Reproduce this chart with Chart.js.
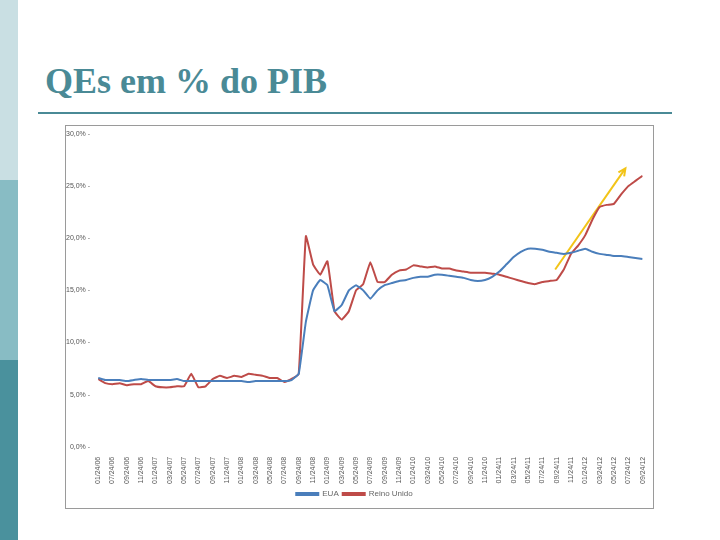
<!DOCTYPE html>
<html><head><meta charset="utf-8">
<script src="https://cdn.jsdelivr.net/npm/chart.js@4"></script>
<style>
body{margin:0;width:720px;height:540px;background:#fff;position:relative;overflow:hidden;font-family:"Liberation Serif",serif}
.s{position:absolute;left:0;width:18px}
#title{position:absolute;left:45px;top:60px;font-size:36px;font-weight:bold;color:#4a8a96;font-family:"Liberation Serif",serif}
#rule{position:absolute;left:38px;top:112px;width:634px;height:2px;background:#4a8a96}
#box{position:absolute;left:65px;top:125px;width:589px;height:384px;border:1px solid #9a9a9a;box-sizing:border-box}
</style></head><body>
<div class="s" style="top:0;height:180px;background:#c9dfe3"></div>
<div class="s" style="top:180px;height:180px;background:#88bcc4"></div>
<div class="s" style="top:360px;height:180px;background:#4a919d"></div>
<div id="title">QEs em % do PIB</div>
<div id="rule"></div>
<div id="box"><canvas id="c" width="587" height="382"></canvas></div>
<script>
"use strict";

// ── Data ──────────────────────────────────────────────────────────────────────
const tickLabels = ["01/24/06","07/24/06","09/24/06","11/24/06",
  "01/24/07","03/24/07","05/24/07","07/24/07","09/24/07","11/24/07",
  "01/24/08","03/24/08","05/24/08","07/24/08","09/24/08","11/24/08",
  "01/24/09","03/24/09","05/24/09","07/24/09","09/24/09","11/24/09",
  "01/24/10","03/24/10","05/24/10","07/24/10","09/24/10","11/24/10",
  "01/24/11","03/24/11","05/24/11","07/24/11","09/24/11","11/24/11",
  "01/24/12","03/24/12","05/24/12","07/24/12","09/24/12"];
const yTicks = [0, 5, 10, 15, 20, 25, 30];

// one value every half label step
const eua = [6.6,6.4, 6.4,6.4, 6.3,6.4, 6.5,6.4, 6.4,6.4, 6.4,6.5, 6.3,6.3, 6.3,6.3,
  6.3,6.3, 6.3,6.3, 6.3,6.2, 6.3,6.3, 6.3,6.3, 6.3,6.4, 7.0,12.0, 15.0,16.0,
  15.5,13.0, 13.6,15.0, 15.5,15.0, 14.2,15.0, 15.5,15.7, 15.9,16.0, 16.2,16.3,
  16.3,16.5, 16.5,16.4, 16.3,16.2, 16.0,15.9, 16.0,16.3, 16.8,17.5, 18.2,18.7,
  19.0,19.0, 18.9,18.7, 18.6,18.5, 18.6,18.8, 19.0,18.7, 18.5,18.4, 18.3,18.3,
  18.2,18.1, 18.0];
const reinoUnido = [6.5,6.1, 6.0,6.1, 5.9,6.0, 6.0,6.3, 5.8,5.7, 5.7,5.8, 5.8,7.0,
  5.7,5.8, 6.5,6.8, 6.6,6.8, 6.7,7.0, 6.9,6.8, 6.6,6.6, 6.2,6.5, 7.0,20.2,
  17.5,16.5, 17.8,13.0, 12.2,13.0, 15.0,15.6, 17.7,15.8, 15.8,16.5, 16.9,17.0,
  17.4,17.3, 17.2,17.3, 17.1,17.1, 16.9,16.8, 16.7,16.7, 16.7,16.6, 16.5,16.3,
  16.1,15.9, 15.7,15.6, 15.8,15.9, 16.0,17.0, 18.5,19.3, 20.3,21.8, 23.0,23.2,
  23.3,24.2, 25.0,25.5, 26.0];
const arrowX = [31.9, 36.8];
const arrowY = [17.0, 26.7];

const pts = arr => arr.map((v, i) => ({ x: i / 2, y: v }));

// ── Arrow head plugin ─────────────────────────────────────────────────────────
const arrowHead = {
  id: "arrowHead",
  afterDatasetsDraw(ch) {
    const xs = ch.scales.x, ys = ch.scales.y, c = ch.ctx;
    const x0 = xs.getPixelForValue(arrowX[0]), y0 = ys.getPixelForValue(arrowY[0]);
    const x1 = xs.getPixelForValue(arrowX[1]), y1 = ys.getPixelForValue(arrowY[1]);
    const a = Math.atan2(y1 - y0, x1 - x0), L = 8;
    c.save();
    c.strokeStyle = "#f2c418"; c.lineWidth = 2;
    c.beginPath();
    c.moveTo(x1 - L * Math.cos(a - 0.45), y1 - L * Math.sin(a - 0.45));
    c.lineTo(x1, y1);
    c.lineTo(x1 - L * Math.cos(a + 0.45), y1 - L * Math.sin(a + 0.45));
    c.stroke();
    c.restore();
  },
};

// ── Chart ─────────────────────────────────────────────────────────────────────
new Chart(document.getElementById("c"), {
  type: "line",
  data: {
    datasets: [
      { label: "EUA", data: pts(eua), borderColor: "#4a7ebb", borderWidth: 2, pointRadius: 0, tension: 0.1 },
      { label: "Reino Unido", data: pts(reinoUnido), borderColor: "#be4b48", borderWidth: 2, pointRadius: 0, tension: 0.1 },
      { label: "arrow", data: arrowX.map((x, i) => ({ x, y: arrowY[i] })), borderColor: "#f2c418", borderWidth: 2, pointRadius: 0 },
    ],
  },
  options: {
    responsive: false,
    animation: false,
    layout: { padding: { left: 0, right: 10, top: 8, bottom: 0 } },
    plugins: {
      tooltip: { enabled: false },
      legend: {
        position: "bottom",
        labels: {
          boxWidth: 22, boxHeight: 2, padding: 4, color: "#666", font: { size: 8, family: "Liberation Sans" },
          filter: item => item.text !== "arrow",
        },
      },
    },
    scales: {
      x: {
        type: "linear", min: 0, max: 38, offset: false,
        afterBuildTicks: s => { s.ticks = tickLabels.map((_, i) => ({ value: i })); },
        ticks: { callback: v => tickLabels[v] ?? "", minRotation: 90, maxRotation: 90, autoSkip: false,
                 color: "#555", font: { size: 7, family: "Liberation Sans" }, padding: 2 },
        grid: { display: false },
        border: { display: false },
      },
      y: {
        min: 0, max: 30,
        afterBuildTicks: s => { s.ticks = yTicks.map(v => ({ value: v })); },
        ticks: { callback: v => v.toFixed(1).replace(".", ",") + "% -", color: "#555", padding: 0,
                 font: { size: 7, family: "Liberation Sans" } },
        grid: { display: false },
        border: { display: false },
      },
    },
  },
  plugins: [arrowHead],
});
</script>
</body></html>
